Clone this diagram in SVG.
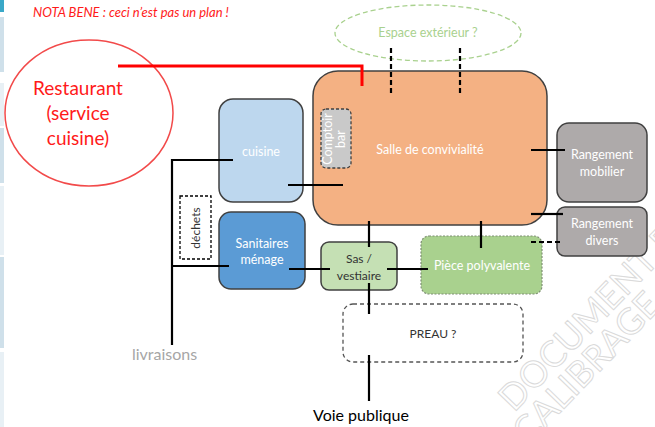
<svg xmlns="http://www.w3.org/2000/svg" width="655" height="427" viewBox="0 0 655 427">
<style>
text{font-family:Lato,"Open Sans","Liberation Sans",sans-serif}
.box{stroke:#404040;stroke-width:1.5}
.w{fill:#ffffff;font-size:12.5px;text-anchor:middle}
.d{fill:#333333;font-size:12px;text-anchor:middle}
.c{stroke:#000;stroke-width:2.2;fill:none}
.cd{stroke:#000;stroke-width:2.2;fill:none;stroke-dasharray:5 3}
</style>
<rect width="655" height="427" fill="#ffffff"/>
<g id="sidebar">
<rect x="0" y="0" width="4" height="12" fill="#3aa8c8"/>
<rect x="0" y="17" width="4" height="55" fill="#cfe0ea"/>
<rect x="0" y="83" width="4" height="43" fill="#e8f0f5"/>
<rect x="0" y="128" width="4" height="55" fill="#cfe0ea"/>
<rect x="0" y="186" width="4" height="69" fill="#e8f0f5"/>
<rect x="0" y="257" width="4" height="91" fill="#cfe0ea"/>
<rect x="0" y="352" width="4" height="75" fill="#e8f0f5"/>
</g>
<g id="watermark" fill="#ffffff" stroke="#dadada" stroke-width="1" font-size="36">
<text x="514" y="413" transform="rotate(-46 514 413)">DOCUMENT DE</text>
<text x="528" y="446" transform="rotate(-46 528 446)">CALIBRAGE</text>
</g>
<text id="nota" x="33" y="17" fill="#ff1a1a" font-size="13" font-style="italic">NOTA BENE : ceci n’est pas un plan !</text>
<g id="restaurant">
<ellipse cx="89" cy="113" rx="84" ry="73" fill="none" stroke="#f24a4a" stroke-width="1.5"/>
<text x="78" y="95" fill="#ff1a1a" font-size="19" text-anchor="middle">Restaurant</text>
<text x="78" y="120" fill="#ff1a1a" font-size="19" text-anchor="middle">(service</text>
<text x="78" y="145" fill="#ff1a1a" font-size="19" text-anchor="middle">cuisine)</text>
</g>
<g id="espace">
<ellipse cx="428" cy="33" rx="93" ry="28" fill="none" stroke="#a9d18e" stroke-width="1.3" stroke-dasharray="5 3"/>
<text x="428" y="37" fill="#a9d18e" font-size="12.5" text-anchor="middle">Espace extérieur ?</text>
</g>
<g id="salle">
<rect class="box" x="313" y="71" width="234" height="154" rx="25" fill="#f4b183"/>
<text class="w" x="430" y="154">Salle de convivialité</text>
</g>
<g id="comptoir">
<rect x="321" y="109" width="30" height="59" rx="5" fill="#c9c9c9" stroke="#404040" stroke-width="1.3" stroke-dasharray="3 2"/>
<text class="w" font-size="11.5" transform="translate(332 139) rotate(-90)">Comptoir</text>
<text class="w" font-size="11.5" transform="translate(345 139) rotate(-90)">bar</text>
</g>
<g id="cuisine">
<rect class="box" x="219" y="99" width="84" height="103" rx="14" fill="#bdd7ee"/>
<text class="w" x="261" y="156" font-size="11.5">cuisine</text>
</g>
<g id="dechets">
<rect x="180" y="196" width="31" height="63" fill="#ffffff" stroke="#000" stroke-width="1.3" stroke-dasharray="3 2"/>
<text class="d" fill="#111" transform="translate(200 228) rotate(-90)">déchets</text>
</g>
<g id="sanitaires">
<rect class="box" x="219" y="212" width="86" height="77" rx="12" fill="#5b9bd5"/>
<text class="w" x="262" y="248">Sanitaires</text>
<text class="w" x="262" y="264">ménage</text>
</g>
<g id="sas">
<rect class="box" x="321" y="242" width="76" height="48" rx="8" fill="#c5e0b4"/>
<text class="d" x="359" y="263">Sas /</text>
<text class="d" x="359" y="280">vestiaire</text>
</g>
<g id="piece">
<rect x="421" y="236" width="121" height="58" rx="8" fill="#a9d18e" stroke="#7f8f74" stroke-width="1.2" stroke-dasharray="2 1.5"/>
<text class="w" x="482" y="270">Pièce polyvalente</text>
</g>
<g id="preau">
<rect x="343" y="304" width="180" height="58" rx="10" fill="#ffffff" stroke="#555555" stroke-width="1.3" stroke-dasharray="4 3"/>
<text class="d" x="433" y="338" font-size="11.5">PREAU ?</text>
</g>
<g id="rangement-mobilier">
<rect class="box" x="557" y="123" width="90" height="79" rx="12" fill="#aeaaaa"/>
<text class="w" x="602" y="159">Rangement</text>
<text class="w" x="602" y="176">mobilier</text>
</g>
<g id="rangement-divers">
<rect class="box" x="557" y="207" width="90" height="49" rx="8" fill="#aeaaaa"/>
<text class="w" x="602" y="228">Rangement</text>
<text class="w" x="602" y="245">divers</text>
</g>
<text id="livraisons" x="132" y="360" fill="#a6a6a6" font-size="16">livraisons</text>
<text id="voie" x="313" y="421" fill="#000" font-size="16">Voie publique</text>
<g id="connectors">
<polyline points="118,66 362,66 362,86" fill="none" stroke="#ff0000" stroke-width="3"/>
<line class="cd" x1="391" y1="48" x2="391" y2="95"/>
<line class="cd" x1="460" y1="48" x2="460" y2="95"/>
<polyline class="c" points="233,160 172,160 172,345"/>
<line class="c" x1="172" y1="266" x2="229" y2="266"/>
<line class="c" x1="288" y1="185" x2="343" y2="185"/>
<line class="c" x1="289" y1="269" x2="330" y2="269"/>
<line class="c" x1="369" y1="221" x2="369" y2="247"/>
<line class="c" x1="387" y1="269" x2="428" y2="269"/>
<line class="c" x1="481" y1="221" x2="481" y2="248"/>
<line class="c" x1="369" y1="283" x2="369" y2="314"/>
<line class="c" x1="369" y1="355" x2="369" y2="401"/>
<line class="c" x1="531" y1="150" x2="565" y2="150"/>
<line class="c" x1="531" y1="214" x2="563" y2="214"/>
<line class="cd" x1="531" y1="242" x2="563" y2="242"/>
</g>
</svg>
